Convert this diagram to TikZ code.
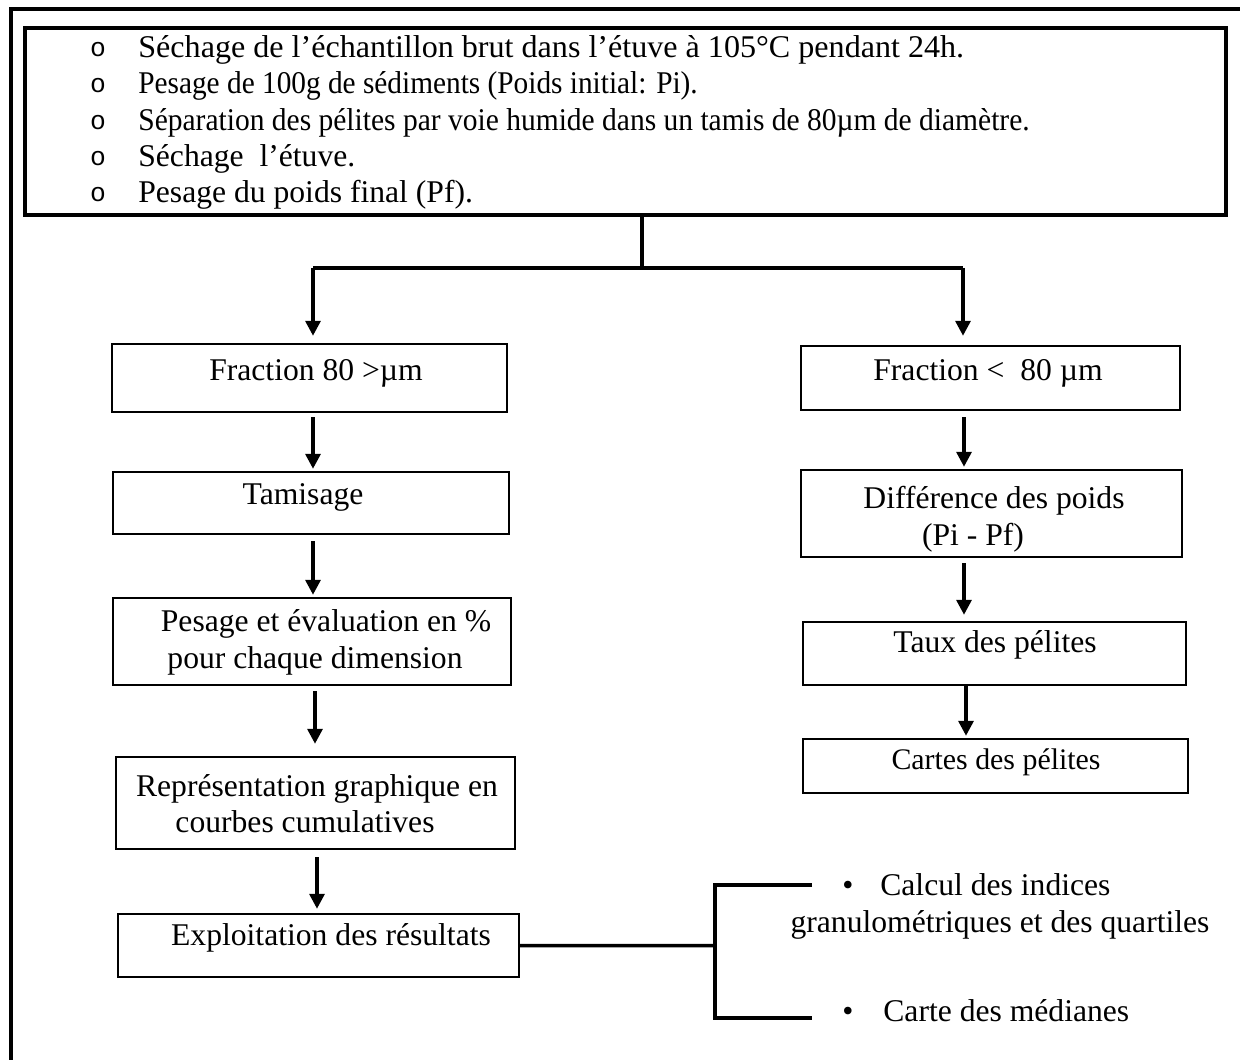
\documentclass[tikz,border=0pt]{standalone}
\usepackage{fontspec}
\setmainfont{Liberation Serif}
\newfontfamily\bulletfont{Liberation Mono}
\usetikzlibrary{arrows.meta,fit,calc}
\begin{document}
\begin{tikzpicture}[x=0.02cm,y=-0.02cm,
  box/.style={draw, line width=1.4pt, inner sep=0pt},
  bigbox/.style={draw, line width=2.1pt, inner sep=0pt},
  txt/.style={anchor=base, inner sep=0pt, font=\fontsize{18}{20.4}\selectfont},
  ltxt/.style={anchor=base west, inner sep=0pt, font=\fontsize{18}{20.4}\selectfont},
  obul/.style={anchor=base, inner sep=0pt, font=\bulletfont\fontsize{15}{18}\selectfont},
  dbul/.style={anchor=base, inner sep=0pt, font=\fontsize{18}{20.4}\selectfont},
  link/.style={line width=2pt},
  arr/.style={line width=1.9pt, -{Triangle[width=8.5pt,length=8.5pt]}},
]
\useasboundingbox (0,0) rectangle (1240,1060);
% outer frame
\draw[line width=2.1pt] (11,1060) -- (11,9) -- (1240,9);

% top box
\node[bigbox, fit={(25,28) (1226,215)}] (top) {};
\foreach \y in {57,93,130,166,202} \node[obul] at (98,\y) {o};
\node[ltxt] (l1) at (138,58) {\scalebox{1.015}[1]{Séchage de l’échantillon brut dans l’étuve à 105°C pendant 24h.}};
\node[ltxt] (l2) at (138,94) {\scalebox{0.927}[1]{Pesage de 100g de sédiments (Poids initial: Pi).}};
\node[ltxt] (l3) at (138,131) {\scalebox{0.933}[1]{Séparation des pélites par voie humide dans un tamis de 80µm de diamètre.}};
\node[ltxt] (l4) at (138,167) {Séchage\ \ l’étuve.};
\node[ltxt] (l5) at (138,203) {Pesage du poids final (Pf).};

% left column
\node[box, fit={(112,344) (507,412)}] (fa) {};
\node[txt] at (316,381) {Fraction 80 >µm};
\node[box, fit={(113,472) (509,534)}] (tam) {};
\node[txt] at (303,504) {Tamisage};
\node[box, fit={(113,598) (511,685)}] (pes) {};
\node[txt] at (326,631) {Pesage et évaluation en \%};
\node[txt] at (315,668) {pour chaque dimension};
\node[box, fit={(116,757) (515,849)}] (rep) {};
\node[txt] at (317,796) {Représentation graphique en};
\node[txt] at (305,832) {courbes cumulatives};
\node[box, fit={(118,914) (519,977)}] (exp) {};
\node[txt] at (331,945) {Exploitation des résultats};

% right column
\node[box, fit={(801,346) (1180,410)}] (fb) {};
\node[txt] at (988,381) {Fraction <\ \ 80 µm};
\node[box, fit={(801,470) (1182,557)}] (dif) {};
\node[txt] at (994,508) {Différence des poids};
\node[txt] at (973,545) {(Pi - Pf)};
\node[box, fit={(803,622) (1186,685)}] (tau) {};
\node[txt] at (995,652) {Taux des pélites};
\node[box, fit={(803,739) (1188,793)}] (car) {};
\node[txt, font=\fontsize{17}{20}\selectfont] at (996,769) {Cartes des pélites};

% bullets bottom right
\node[dbul] at (848,895) {•};
\node[ltxt] (c1) at (880,895) {Calcul des indices};
\node[txt] (c2) at (1000,932) {granulométriques et des quartiles};
\node[dbul] at (848,1021) {•};
\node[ltxt] (c3) at (883,1021) {Carte des médianes};

% connectors
\coordinate (split) at (642,268);
\coordinate (lx) at (313,0);
\coordinate (rx) at (963,0);
\draw[link] (top.south -| split) -- (split);
\draw[link] (lx |- split) -- (rx |- split);
\draw[arr] (lx |- split) -- ($(lx |- fa.north)+(0,-7)$);
\draw[arr] (rx |- split) -- ($(rx |- fb.north)+(0,-9)$);

\draw[arr] ($(fa.south -| lx)+(0,4)$) -- ($(tam.north -| lx)+(0,-2)$);
\draw[arr] ($(tam.south -| lx)+(0,6)$) -- ($(pes.north -| lx)+(0,-2)$);
\coordinate (lx2) at (315,0);
\draw[arr] ($(pes.south -| lx2)+(0,5)$) -- ($(rep.north -| lx2)+(0,-12)$);
\coordinate (lx3) at (317,0);
\draw[arr] ($(rep.south -| lx3)+(0,7)$) -- ($(exp.north -| lx3)+(0,-4)$);

\coordinate (rx1) at (964,0);
\draw[arr] ($(fb.south -| rx1)+(0,6)$) -- ($(dif.north -| rx1)+(0,-2)$);
\draw[arr] ($(dif.south -| rx1)+(0,5)$) -- ($(tau.north -| rx1)+(0,-6)$);
\coordinate (rx2) at (966,0);
\draw[arr] (tau.south -| rx2) -- ($(car.north -| rx2)+(0,-2)$);

% bracket
\coordinate (bx) at (715,945.5);
\coordinate (b1) at (812,885);
\coordinate (b2) at (812,1018);
\draw[link] (exp.east) -- (bx);
\draw[link] (b1) -| (bx) |- (b2);
\end{tikzpicture}
\end{document}
